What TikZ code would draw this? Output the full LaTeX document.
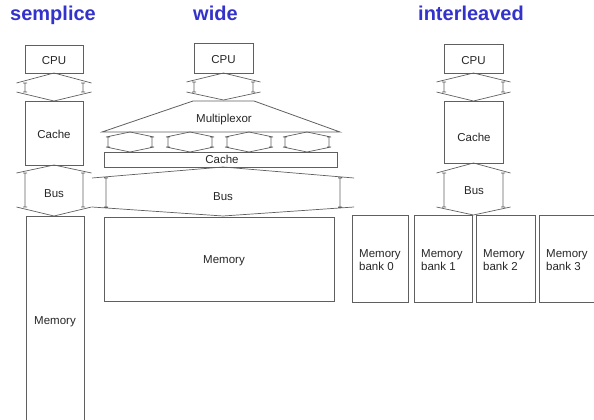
\documentclass[tikz,border=0pt]{standalone}
\usepackage{fontspec}
\setmainfont{Liberation Sans}
\definecolor{ttl}{RGB}{51,51,204}
\definecolor{ln}{RGB}{95,95,95}
\newcommand\busar[7]{% cx, yTop, y1, y2, yBot, headhalf, shafthalf
  \draw[busline] (#1,#2) -- (#1-#6,#3) (#1,#2) -- (#1+#6,#3)
    (#1-#6,#4) -- (#1,#5) -- (#1+#6,#4)
    (#1-#7,#3) -- (#1-#7,#4) (#1+#7,#3) -- (#1+#7,#4)
    (#1-#7-2,#3) -- (#1-#7+2,#3) (#1-#7-2,#4) -- (#1-#7+2,#4)
    (#1+#7-2,#3) -- (#1+#7+2,#3) (#1+#7-2,#4) -- (#1+#7+2,#4);}
\begin{document}
\begin{tikzpicture}[x=1pt,y=-1pt,
  box/.style={draw=ln,line width=0.8pt},
  busline/.style={draw=ln,line width=0.7pt},
  lbl/.style={font=\fontsize{11.5}{13}\selectfont,text=black!85,yshift=-1.5pt},
  ttlst/.style={font=\fontsize{20}{22}\selectfont\bfseries,text=ttl,anchor=base west,inner sep=0pt}]
\useasboundingbox (0,0) rectangle (594,420);
\clip (0,0) rectangle (594,420);
% titles
\node[ttlst] (t1) at (10,21) {semplice};
\node[ttlst] (t2) at (193,21) {wide};
\node[ttlst] (t3) at (418,21) {interleaved};
% ---- semplice
\draw[box] (25,45) rectangle (83,73);
\node[lbl] (s-cpu) at (54,59) {CPU};
\busar{54}{73}{83}{92}{101}{37.5}{29}
\draw[box] (25,101) rectangle (83,165);
\node[lbl] (s-cache) at (54,133) {Cache};
\busar{54}{165}{173}{207}{216}{37.5}{29}
\node[lbl] (s-bus) at (54,192) {Bus};
\draw[box] (26,216) rectangle (84,430);
\node[lbl] (s-mem) at (55,320) {Memory};
% ---- wide
\draw[box] (194,43) rectangle (253,73);
\node[lbl] (w-cpu) at (223.5,58) {CPU};
\busar{223.5}{73}{82}{92}{100}{37}{29.5}
\draw[box] (193,101) -- (254,101) -- (340,132) -- (102,132) -- cycle;
\node[lbl] (w-mux) at (224,118) {Multiplexor};
\foreach \c in {130,190,249,307}{\busar{\c}{132}{137}{147}{152}{24}{22}}
\draw[box] (104,152) rectangle (337,167);
\node[lbl,yshift=1pt] (w-cache) at (222,159) {Cache};
\busar{223}{167}{178}{207}{216}{131}{117}
\node[lbl] (w-bus) at (223,195) {Bus};
\draw[box] (104,217) rectangle (334,301);
\node[lbl] (w-mem) at (224,259) {Memory};
% ---- interleaved
\draw[box] (444,44) rectangle (503,73);
\node[lbl] (i-cpu) at (473.5,59) {CPU};
\busar{473.5}{73}{82}{92}{101}{37}{29.5}
\draw[box] (444,101) rectangle (503,163);
\node[lbl] (i-cache) at (474,136) {Cache};
\busar{473.5}{163}{173}{207}{215}{37}{29.5}
\node[lbl] (i-bus) at (474,189) {Bus};
\foreach \xa/\xb/\n in {352/408/0,414/472/1,476/535/2,539/610/3}{
  \draw[box] (\xa,215) rectangle (\xb,302);
  \node[lbl,anchor=west,align=left,inner sep=0pt] (bank\n) at (\xa+7,259) {Memory\\bank \n};
}
\end{tikzpicture}
\end{document}
